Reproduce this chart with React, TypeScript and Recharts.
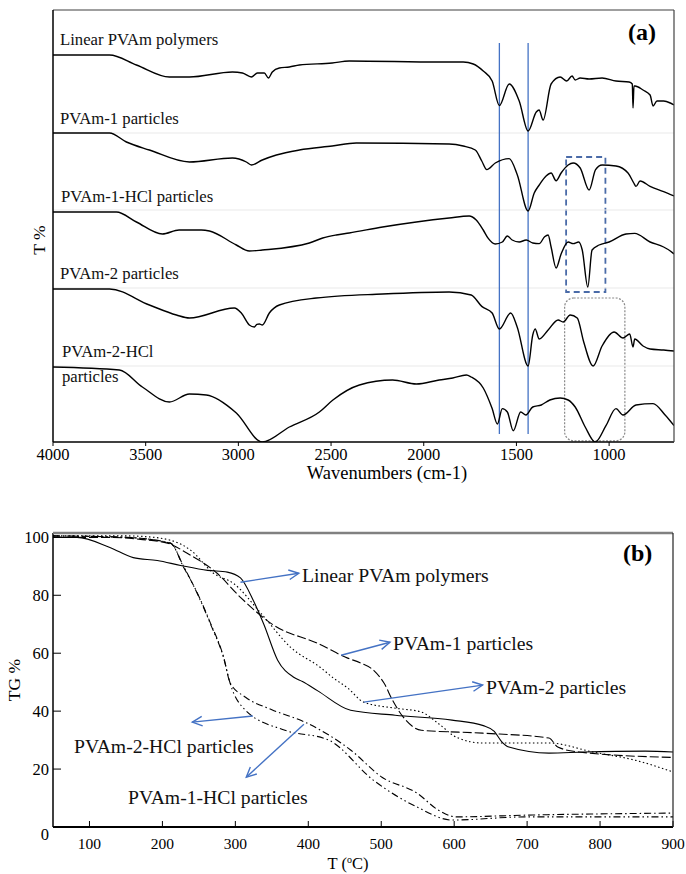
import React from 'react';
import { LineChart, Line, XAxis, YAxis, ReferenceLine, ReferenceArea } from 'recharts';

const SERIF = "'Liberation Serif', 'Times New Roman', 'DejaVu Serif', serif";

// ---- (a) FTIR spectra: [wavenumber, T (stacked, arbitrary units)] ----
const linearPolymer: [number, number][] = [
  [4000, 96.75], [3695, 96.75], [3550, 94.25], [3372, 91.25], [3264, 91.25], [3032, 92.5], [2978, 92.25],
  [2930, 91.25], [2897, 92.25], [2860, 92.25], [2838, 91], [2817, 92.5], [2779, 93.5], [2725, 93.75],
  [2671, 94.25], [2494, 94.75], [2402, 95.25], [1917, 95], [1787, 95], [1733, 94.5], [1679, 92.75],
  [1631, 90.25], [1592, 84.1], [1539, 89.5], [1485, 85.25], [1437, 77.75], [1393, 82.5], [1378, 83],
  [1356, 80.5], [1313, 89.5], [1264, 91.25], [1229, 90.25], [1200, 91.5], [1183, 90.5], [1156, 91],
  [1108, 90.75], [1038, 91], [963, 90.25], [892, 90], [875, 89.5], [871, 83.5], [866, 89], [860, 89],
  [817, 88], [779, 86.75], [763, 84], [742, 85.25], [706, 85.25], [670, 84.75], [650, 84.25],
];
const pvam1: [number, number][] = [
  [4000, 77.25], [3695, 77.25], [3604, 75], [3480, 73], [3264, 70], [3032, 71], [2957, 70], [2930, 69.25],
  [2871, 70.5], [2795, 71.75], [2671, 73], [2494, 74], [2364, 74.75], [1863, 74.5], [1787, 74], [1722, 73],
  [1687, 70.25], [1660, 68.1], [1614, 69.75], [1539, 70.85], [1496, 66.9], [1437, 57.75], [1404, 62.25],
  [1377, 64.25], [1340, 66.5], [1313, 67.25], [1286, 65.3], [1259, 67.25], [1221, 69.25], [1194, 69.75],
  [1156, 68.5], [1108, 63], [1073, 68.1], [1038, 69.25], [963, 69], [898, 67.25], [867, 64.75], [855, 63.9],
  [833, 65.25], [779, 63.9], [706, 62.6], [650, 61.5],
];
const pvam1Hcl: [number, number][] = [
  [4000, 57.5], [3658, 57.5], [3550, 55], [3410, 52], [3320, 53], [3200, 53], [3156, 52.75], [3011, 49.25],
  [2941, 47.75], [2871, 48], [2617, 49.75], [2545, 51], [2472, 51.75], [2402, 52.25], [2222, 53.75],
  [2040, 55], [1863, 56], [1755, 56.5], [1717, 55.5], [1679, 53], [1652, 50.9], [1614, 49.5], [1576, 50],
  [1549, 51.5], [1523, 50.5], [1485, 50], [1447, 50.5], [1412, 49.75], [1377, 49.6], [1348, 51.3],
  [1329, 51.75], [1313, 48.75], [1286, 43.5], [1259, 47], [1221, 50], [1194, 49.6], [1164, 50], [1145, 48],
  [1115, 38.75], [1092, 48], [1054, 49.25], [1000, 50], [909, 52], [862, 52.15], [779, 50], [706, 48.75],
  [670, 47.75], [650, 47],
];
const pvam2: [number, number][] = [
  [4000, 38.25], [3695, 38.25], [3480, 34.25], [3334, 31.75], [3264, 31], [3022, 33.5], [2984, 32.25],
  [2941, 29.25], [2914, 28.75], [2900, 29.4], [2887, 29.5], [2871, 29.25], [2833, 32.25], [2779, 34.25],
  [2580, 36], [2222, 37], [1863, 37.5], [1744, 36.75], [1687, 33.9], [1631, 32.25], [1592, 28.25],
  [1531, 32.25], [1496, 28.75], [1437, 19], [1412, 26.75], [1399, 28.25], [1377, 25.75], [1329, 28],
  [1275, 30.5], [1248, 30], [1210, 31.75], [1172, 31], [1137, 25], [1086, 19], [1038, 24], [973, 27.5],
  [925, 26], [889, 27], [871, 23.75], [862, 25.75], [817, 24], [779, 23.25], [706, 23], [650, 22.75],
];
const pvam2Hcl: [number, number][] = [
  [4000, 18.75], [3642, 18], [3518, 13.75], [3372, 10], [3264, 12], [3173, 11.75], [3011, 7.25], [2871, 0],
  [2725, 3.75], [2563, 7.5], [2490, 10.5], [2347, 14.25], [2168, 15.5], [2040, 14.5], [1917, 15.5],
  [1843, 16], [1770, 16.75], [1744, 16.25], [1679, 13.5], [1631, 8.35], [1603, 4.5], [1576, 8.35],
  [1549, 7.5], [1517, 2.8], [1477, 7.5], [1449, 6.75], [1412, 8.75], [1366, 9.25], [1320, 10.5],
  [1264, 11], [1221, 10.5], [1183, 8.75], [1129, 3.75], [1075, 0], [1017, 4.1], [963, 8.35], [925, 6.75],
  [855, 9.25], [763, 9.6], [698, 6.75], [650, 4.1],
];
const ftirTicks = [4000, 3500, 3000, 2500, 2000, 1500, 1000];
const ftirSeparators = [77.25, 58, 38.5, 19];
const bandLines = [1592, 1437];
const ftirLabels = [
  { text: 'Linear PVAm polymers', x: 60, y: 45 },
  { text: 'PVAm-1 particles', x: 60, y: 124 },
  { text: 'PVAm-1-HCl particles', x: 61, y: 202 },
  { text: 'PVAm-2 particles', x: 60, y: 279 },
  { text: 'PVAm-2-HCl', x: 62, y: 357 },
  { text: 'particles', x: 62, y: 382 },
];

// ---- (b) TGA curves: [T (°C), TG %] ----
const tgaLinear: [number, number][] = [
  [50, 100], [83, 100], [128, 96.5], [160, 93], [193, 92], [225, 90.3], [262, 88.6], [289, 88], [307, 86],
  [325, 78], [339, 70], [358, 57.6], [380, 51.7], [392, 50.2], [413, 47], [458, 40.3], [519, 38.6],
  [597, 36.9], [640, 35], [655, 33], [665, 29.5], [675, 27.6], [730, 25.5], [778, 25.9], [862, 26.2],
  [900, 25.9],
];
const tgaPvam1: [number, number][] = [
  [50, 100], [130, 100], [170, 99.3], [207, 98], [234, 94.5], [275, 87.6], [307, 79.3], [353, 69.6],
  [413, 63.4], [454, 58.3], [472, 56.6], [490, 54], [504, 49.6], [515, 44], [530, 38], [555, 33.4],
  [639, 32.4], [730, 30.7], [742, 27.6], [771, 25.9], [900, 24],
];
const tgaPvam2: [number, number][] = [
  [50, 100.5], [150, 100.5], [174, 100.3], [211, 99], [239, 95.5], [270, 87.6], [298, 84], [335, 73.8],
  [376, 62], [417, 55], [434, 51.5], [454, 48], [476, 43.1], [520, 41], [555, 39.7], [578, 35.8], [603, 31],
  [639, 29], [730, 29], [790, 25.9], [849, 23], [900, 19],
];
const tgaPvam1Hcl: [number, number][] = [
  [50, 100.5], [150, 100], [211, 98], [229, 89.7], [248, 80.7], [266, 70.3], [284, 58.6], [293, 49.7],
  [314, 44.8], [350, 40.5], [398, 35.9], [458, 26.6], [501, 17.2], [549, 11.7], [578, 5.9], [603, 3.5],
  [699, 4.1], [900, 4.8],
];
const tgaPvam2Hcl: [number, number][] = [
  [50, 100.5], [150, 100], [211, 98], [229, 90], [248, 80.5], [266, 70], [284, 58.3], [293, 49.5],
  [314, 40.3], [368, 33.4], [428, 30], [489, 16.2], [549, 6.9], [597, 2.4], [699, 3.5], [900, 3.5],
];
const tgaXTicks = [100, 200, 300, 400, 500, 600, 700, 800, 900];
const tgaYTicks = [0, 20, 40, 60, 80, 100];
// arrows: [from T, from TG, to T, to TG], label text and its anchor (page px)
const tgaNotes = [
  { text: 'Linear PVAm polymers', seg: [307, 84.5, 387, 87.6], x: 302, y: 582 },
  { text: 'PVAm-1 particles', seg: [445, 59.3, 512, 63.8], x: 393, y: 650 },
  { text: 'PVAm-2 particles', seg: [476, 43.1, 639, 49], x: 486, y: 694 },
  { text: 'PVAm-2-HCl particles', seg: [324, 38.3, 241, 36.2], x: 74, y: 753 },
  { text: 'PVAm-1-HCl particles', seg: [394, 35.5, 315, 17.2], x: 128, y: 804 },
];

const rows = (pts: [number, number][]) => pts.map(([x, y]) => ({ x, y }));

const spectra = [linearPolymer, pvam1, pvam1Hcl, pvam2, pvam2Hcl];
const tgaSeries = [
  { pts: tgaLinear, dash: undefined },
  { pts: tgaPvam1, dash: '9 3' },
  { pts: tgaPvam2, dash: '1.5 2.5' },
  { pts: tgaPvam1Hcl, dash: '7 3 1.5 3' },
  { pts: tgaPvam2Hcl, dash: '7 3 1.5 3 1.5 3' },
];

const txt = (size: number, extra: React.CSSProperties = {}): React.CSSProperties => ({
  fontFamily: SERIF,
  fontSize: size,
  ...extra,
});

const FtirTick = ({ x, y, payload }: any) => (
  <g>
    <line x1={x} y1={y} x2={x} y2={y + 4} stroke="#000" />
    <text x={x} y={y + 18} textAnchor="middle" style={txt(16.5)} fill="#000">
      {payload.value}
    </text>
  </g>
);

const TgaXTick = ({ x, y, payload }: any) => (
  <g>
    <line x1={x} y1={y} x2={x} y2={y - 6} stroke="#000" />
    <text x={x} y={y + 22} textAnchor="middle" style={txt(15.5)} fill="#000">
      {payload.value}
    </text>
  </g>
);

const TgaYTick = ({ x, y, payload }: any) => (
  <g>
    <line x1={x} y1={y} x2={x + 8} y2={y} stroke="#000" />
    <text x={x - 4} y={y + (payload.value === 0 ? 13 : 6)} textAnchor="end" style={txt(16.5)} fill="#000">
      {payload.value}
    </text>
  </g>
);

const RoundedBox = (p: any) => (
  <rect x={p.x} y={p.y} width={p.width} height={p.height} rx={9} ry={9}
    fill="none" stroke="#8a8a8a" strokeWidth={1.2} strokeDasharray="2 1.5" />
);

const Arrow = (p: any) => {
  const { x1, y1, x2, y2 } = p;
  const a = Math.atan2(y2 - y1, x2 - x1);
  const L = 11;
  const s = 0.45;
  const ax = x2 - L * Math.cos(a - s);
  const ay = y2 - L * Math.sin(a - s);
  const bx = x2 - L * Math.cos(a + s);
  const by = y2 - L * Math.sin(a + s);
  return (
    <g>
      <line x1={x1} y1={y1} x2={x2} y2={y2} stroke="#4472c4" strokeWidth={1.4} />
      <polyline points={`${ax},${ay} ${x2},${y2} ${bx},${by}`} fill="none" stroke="#4472c4" strokeWidth={1.4} />
    </g>
  );
};

export default function App() {
  return (
    <div style={{ position: 'absolute', left: 0, top: 0, width: 686, height: 874, background: '#fff' }}>
      <div style={{ position: 'absolute', left: 0, top: 0 }}>
        <LineChart width={686} height={475} margin={{ top: 10, right: 12, left: 53, bottom: 8 }}>
          <XAxis type="number" dataKey="x" domain={[650, 4000]} reversed ticks={ftirTicks} interval={0}
            height={25} tickSize={0} tickMargin={0} tickLine={false} tick={<FtirTick />}
            axisLine={{ stroke: '#000', strokeWidth: 1.5 }} allowDataOverflow />
          <YAxis hide type="number" domain={[0, 108]} allowDataOverflow />
          {ftirSeparators.map((v) => (
            <ReferenceLine key={v} y={v} stroke="#e9e9e9" strokeWidth={1} />
          ))}
          <ReferenceArea x1={1232} x2={1020} y1={37.5} y2={71.25} fill="none" fillOpacity={0}
            stroke="#4a6ba8" strokeWidth={1.8} strokeDasharray="6 4" />
          <ReferenceArea x1={1240} x2={915} y1={0.3} y2={36} shape={RoundedBox} />
          {bandLines.map((w) => (
            <ReferenceLine key={w} segment={[{ x: w, y: 2 }, { x: w, y: 99.75 }]} stroke="#4472c4" strokeWidth={1.3} />
          ))}
          {spectra.map((s, i) => (
            <Line key={i} data={rows(s)} dataKey="y" type="monotone" stroke="#000" strokeWidth={1.4}
              dot={false} isAnimationActive={false} />
          ))}
        </LineChart>
      </div>

      <div style={{ position: 'absolute', left: 0, top: 480 }}>
        <LineChart width={686} height={394} margin={{ top: 53, right: 13, left: 8, bottom: 17 }}>
          <XAxis type="number" dataKey="x" domain={[50, 900]} ticks={tgaXTicks} interval={0}
            height={30} tickSize={0} tickMargin={0} tickLine={false} tick={<TgaXTick />}
            axisLine={{ stroke: '#000', strokeWidth: 2 }} allowDataOverflow />
          <YAxis type="number" domain={[0, 101.5]} ticks={tgaYTicks} interval={0} width={45}
            tickSize={0} tickMargin={0} tickLine={false} tick={<TgaYTick />}
            axisLine={{ stroke: '#000', strokeWidth: 1.5 }} allowDataOverflow />
          {tgaSeries.map((s, i) => (
            <Line key={i} data={rows(s.pts)} dataKey="y" type="monotone" stroke="#000" strokeWidth={1.1}
              strokeDasharray={s.dash} dot={false} isAnimationActive={false} />
          ))}
          {tgaNotes.map((n) => (
            <ReferenceLine key={n.text} segment={[{ x: n.seg[0], y: n.seg[1] }, { x: n.seg[2], y: n.seg[3] }]}
              shape={Arrow} />
          ))}
        </LineChart>
      </div>

      <svg width={686} height={874} style={{ position: 'absolute', left: 0, top: 0, pointerEvents: 'none' }}>
        {/* frame (a) */}
        <line x1={53} y1={10} x2={674} y2={10} stroke="#7f7f7f" strokeWidth={1.5} />
        <line x1={674} y1={10} x2={674} y2={442} stroke="#444" strokeWidth={1.2} />
        <line x1={53} y1={10} x2={53} y2={442} stroke="#000" strokeWidth={1.5} />
        {/* frame (b) */}
        <line x1={53} y1={533} x2={673} y2={533} stroke="#808080" strokeWidth={2.5} />
        <line x1={673} y1={533} x2={673} y2={827} stroke="#222" strokeWidth={1.2} />

        <text x={628} y={40} style={txt(24, { fontWeight: 'bold' })}>(a)</text>
        {ftirLabels.map((l) => (
          <text key={l.text + l.y} x={l.x} y={l.y} style={txt(16.7)} fill="#111">{l.text}</text>
        ))}
        <text x={0} y={0} transform="translate(45,240) rotate(-90)" textAnchor="middle" style={txt(17.5)}>T %</text>
        <text x={387} y={479} textAnchor="middle" style={txt(18.5)}>Wavenumbers (cm-1)</text>

        <text x={623} y={561} style={txt(24, { fontWeight: 'bold' })}>(b)</text>
        {tgaNotes.map((n) => (
          <text key={n.text} x={n.x} y={n.y} style={txt(19.7)} fill="#111">{n.text}</text>
        ))}
        <text x={0} y={0} transform="translate(20,680) rotate(-90)" textAnchor="middle" style={txt(17.5)}>TG %</text>
        <text x={348} y={869} textAnchor="middle" style={txt(16.5)}>
          T (<tspan fontSize={10} dy={-6}>o</tspan><tspan dy={6}>C)</tspan>
        </text>
      </svg>
    </div>
  );
}
